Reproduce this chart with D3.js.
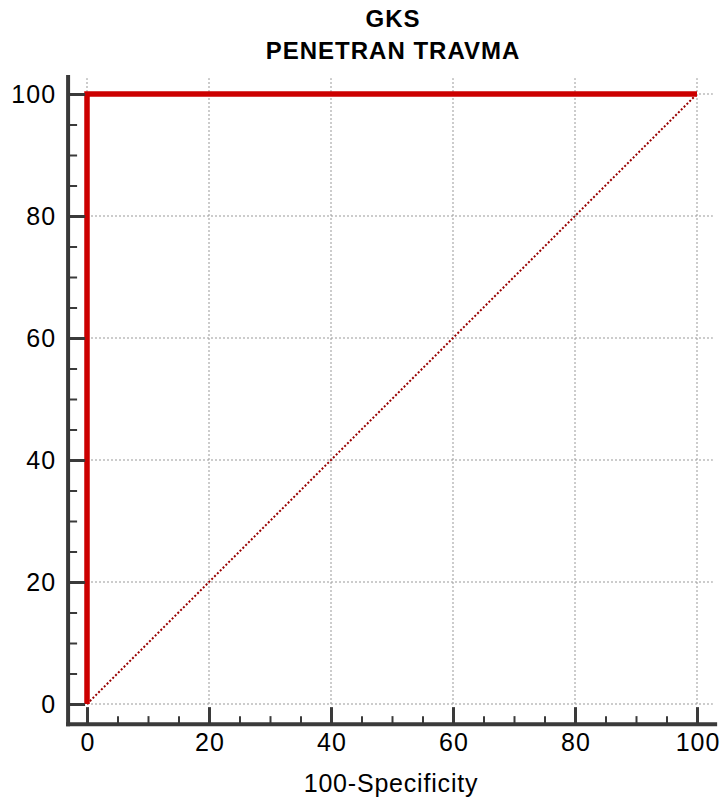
<!DOCTYPE html>
<html>
<head>
<meta charset="utf-8">
<script src="https://cdn.jsdelivr.net/npm/d3@7"></script>
<style>
  body { margin: 0; background: #fff; }
  svg { display: block; font-family: "Liberation Sans", Arial, sans-serif; }
</style>
</head>
<body>
<div id="chart"></div>
<script>
// ROC curve data (100-Specificity, Sensitivity)
const rocX = [0, 0, 100];
const rocY = [0, 100, 100];
const refX = [0, 100];
const refY = [0, 100];
const majorTicks = [0, 20, 40, 60, 80, 100];
const minorTicks = [5, 10, 15, 25, 30, 35, 45, 50, 55, 65, 70, 75, 85, 90, 95];
const titleLines = ["GKS", "PENETRAN TRAVMA"];
const xTitle = "100-Specificity";

const width = 722, height = 801;

const x = d3.scaleLinear().domain([0, 100]).range([87, 697]);
const y = d3.scaleLinear().domain([0, 100]).range([704, 94]);

const svg = d3.create("svg")
  .attr("width", width)
  .attr("height", height);

// grid
const grid = svg.append("g")
  .attr("stroke", "#999")
  .attr("stroke-width", 1)
  .attr("stroke-dasharray", "2,2");

grid.selectAll("line.v")
  .data(majorTicks)
  .join("line")
  .attr("class", "v")
  .attr("x1", d => x(d)).attr("x2", d => x(d))
  .attr("y1", y(0)).attr("y2", y(102.6));

grid.selectAll("line.h")
  .data(majorTicks)
  .join("line")
  .attr("class", "h")
  .attr("y1", d => y(d)).attr("y2", d => y(d))
  .attr("x1", x(0)).attr("x2", x(102.6));

// reference diagonal
const line = d3.line().x(d => x(d[0])).y(d => y(d[1]));

svg.append("path")
  .datum(d3.zip(refX, refY))
  .attr("d", line)
  .attr("fill", "none")
  .attr("stroke", "#990000")
  .attr("stroke-width", 2)
  .attr("stroke-dasharray", "2,2");

// ROC curve
svg.append("path")
  .datum(d3.zip(rocX, rocY))
  .attr("d", line)
  .attr("fill", "none")
  .attr("stroke", "#cc0000")
  .attr("stroke-width", 5.5)
  .attr("stroke-linejoin", "miter");

// axes
const axisColor = "#3a3a3a";
const yBottom = y(-3.3);
const xLeft = x(-3.1);

function styleLabels(g) {
  g.selectAll(".tick text")
    .attr("fill", "#000")
    .style("font-size", "25px")
    .style("letter-spacing", "1px")
    .style("font-family", "Liberation Sans, Arial, sans-serif");
}

const xMajor = svg.append("g")
  .attr("transform", `translate(0,${yBottom})`)
  .call(d3.axisBottom(x).tickValues(majorTicks).tickSizeInner(-17).tickSizeOuter(0).tickPadding(9));
xMajor.select(".domain").remove();
xMajor.selectAll(".tick line").attr("stroke", axisColor).attr("stroke-width", 3);
xMajor.call(styleLabels);
xMajor.selectAll(".tick text").attr("dx", "0.5px");

const xMinor = svg.append("g")
  .attr("transform", `translate(0,${yBottom})`)
  .call(d3.axisBottom(x).tickValues(minorTicks).tickSizeInner(-8).tickSizeOuter(0).tickFormat(""));
xMinor.select(".domain").remove();
xMinor.selectAll(".tick line").attr("stroke", axisColor).attr("stroke-width", 2);

const yMajor = svg.append("g")
  .attr("transform", `translate(${xLeft},0)`)
  .call(d3.axisLeft(y).tickValues(majorTicks).tickSizeInner(-17).tickSizeOuter(0).tickPadding(12));
yMajor.select(".domain").remove();
yMajor.selectAll(".tick line").attr("stroke", axisColor).attr("stroke-width", 3);
yMajor.call(styleLabels);

const yMinor = svg.append("g")
  .attr("transform", `translate(${xLeft},0)`)
  .call(d3.axisLeft(y).tickValues(minorTicks).tickSizeInner(-9).tickSizeOuter(0).tickFormat(""));
yMinor.select(".domain").remove();
yMinor.selectAll(".tick line").attr("stroke", axisColor).attr("stroke-width", 2);

// axis lines
svg.append("line")
  .attr("x1", xLeft - 2).attr("x2", x(103.3))
  .attr("y1", yBottom).attr("y2", yBottom)
  .attr("stroke", axisColor).attr("stroke-width", 4);

svg.append("line")
  .attr("x1", xLeft).attr("x2", xLeft)
  .attr("y1", yBottom + 2).attr("y2", y(103.1))
  .attr("stroke", axisColor).attr("stroke-width", 4);

// titles
svg.append("g")
  .attr("text-anchor", "middle")
  .attr("font-weight", "bold")
  .attr("font-size", 24)
  .style("letter-spacing", "1px")
  .selectAll("text")
  .data(titleLines)
  .join("text")
  .attr("x", 393)
  .attr("y", (d, i) => 27 + i * 32)
  .text(d => d);

svg.append("text")
  .attr("x", 391)
  .attr("y", 792)
  .attr("text-anchor", "middle")
  .attr("font-size", 25)
  .style("letter-spacing", "0.8px")
  .text(xTitle);

document.getElementById("chart").append(svg.node());
</script>
</body>
</html>
